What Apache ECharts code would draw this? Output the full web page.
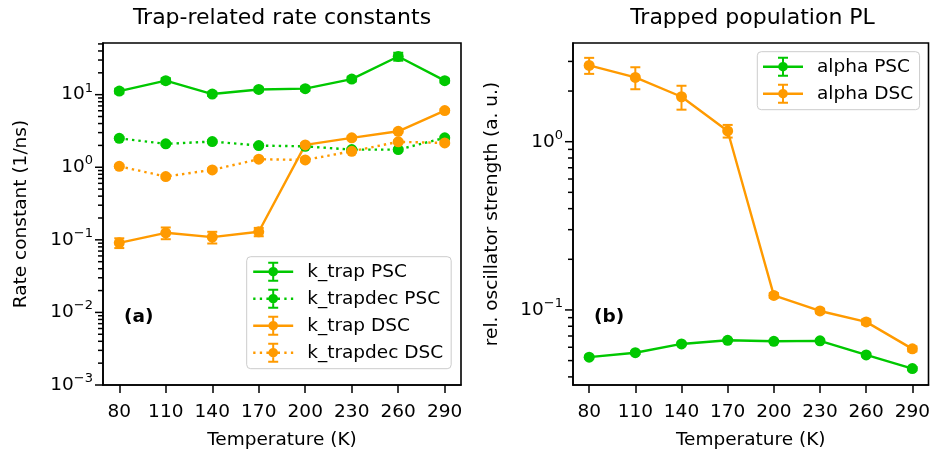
<!DOCTYPE html>
<html><head><meta charset="utf-8">
<script src="https://cdn.jsdelivr.net/npm/echarts@6/dist/echarts.min.js"></script>
<style>html,body{margin:0;padding:0;background:#fff}#c{width:933px;height:455px}</style>
</head><body><div id="c"></div>
<script>
// ---- data ----
const temps = [80, 110, 140, 170, 200, 230, 260, 290];

const kTrapPSC       = [11.2, 15.6, 10.2, 11.8, 12.1, 16.4, 33.6, 15.6];
const kTrapPSCErr    = [0.8, 1.3, 0.6, 0.7, 0.8, 1.2, 4.2, 1.0];
const kTrapdecPSC    = [2.50, 2.10, 2.26, 1.99, 1.94, 1.75, 1.75, 2.54];
const kTrapdecPSCErr = [0.10, 0.08, 0.09, 0.08, 0.08, 0.07, 0.07, 0.10];
const kTrapDSC       = [0.091, 0.125, 0.109, 0.129, 2.03, 2.54, 3.13, 6.03];
const kTrapDSCErr    = [0.014, 0.023, 0.020, 0.017, 0.10, 0.12, 0.15, 0.30];
const kTrapdecDSC    = [1.03, 0.745, 0.92, 1.29, 1.26, 1.66, 2.24, 2.16];
const kTrapdecDSCErr = [0.05, 0.04, 0.04, 0.06, 0.06, 0.07, 0.09, 0.09];

const alphaPSC    = [0.0524, 0.0557, 0.0628, 0.0660, 0.0651, 0.0655, 0.0540, 0.0448];
const alphaPSCErr = [0.001, 0.001, 0.001, 0.001, 0.001, 0.001, 0.001, 0.001];
const alphaDSC    = [2.84, 2.41, 1.85, 1.158, 0.122, 0.0986, 0.0849, 0.0587];
const alphaDSCErr = [0.31, 0.36, 0.30, 0.10, 0.004, 0.003, 0.003, 0.002];

const majorTicksL = [0.001, 0.01, 0.1, 1, 10];
const minorTicksL = [0.002, 0.003, 0.004, 0.005, 0.006, 0.007, 0.008, 0.009,
                     0.02, 0.03, 0.04, 0.05, 0.06, 0.07, 0.08, 0.09,
                     0.2, 0.3, 0.4, 0.5, 0.6, 0.7, 0.8, 0.9,
                     2, 3, 4, 5, 6, 7, 8, 9, 20, 30, 40, 50];
const majorTicksR = [0.1, 1];
const minorTicksR = [0.04, 0.05, 0.06, 0.07, 0.08, 0.09,
                     0.2, 0.3, 0.4, 0.5, 0.6, 0.7, 0.8, 0.9, 2, 3];

const leftNames  = ['k_trap PSC', 'k_trapdec PSC', 'k_trap DSC', 'k_trapdec DSC'];
const rightNames = ['alpha PSC', 'alpha DSC'];

// ---- style ----
const GREEN = '#00c800', ORANGE = '#ff9a00';
const FONT = '"DejaVu Sans", Verdana, sans-serif';
const FS = 18.5;

const solidIcon = 'path://M0,8.8L40,8.8L40,11.2L0,11.2Z M19,1L21,1L21,19L19,19Z M15,0L25,0L25,2L15,2Z M15,18L25,18L25,20L15,20Z M24.8,10A4.8,4.8 0 1 1 15.2,10A4.8,4.8 0 1 1 24.8,10Z';
const dotIcon = 'path://M0,8.8L2.3,8.8L2.3,11.2L0,11.2Z M6.6,8.8L8.9,8.8L8.9,11.2L6.6,11.2Z M13.2,8.8L15.5,8.8L15.5,11.2L13.2,11.2Z M24.5,8.8L26.8,8.8L26.8,11.2L24.5,11.2Z M31.1,8.8L33.4,8.8L33.4,11.2L31.1,11.2Z M37.7,8.8L40,8.8L40,11.2L37.7,11.2Z M19,1L21,1L21,19L19,19Z M15,0L25,0L25,2L15,2Z M15,18L25,18L25,20L15,20Z M24.8,10A4.8,4.8 0 1 1 15.2,10A4.8,4.8 0 1 1 24.8,10Z';

function pairs(ys) { return temps.map((t, i) => [t, ys[i]]); }
function triples(ys, es) { return temps.map((t, i) => [t, ys[i], es[i]]); }

function errSeries(name, ys, es, color, gi) {
  return {
    type: 'custom', name: name + ' err', xAxisIndex: gi, yAxisIndex: gi * 2, clip: false,
    data: triples(ys, es), silent: true, z: 2,
    renderItem: function (params, api) {
      const x = api.value(0), y = api.value(1), e = api.value(2);
      const lo = api.coord([x, y - e]), hi = api.coord([x, y + e]);
      const hw = 5, st = { stroke: color, lineWidth: 2 };
      return { type: 'group', children: [
        { type: 'line', shape: { x1: lo[0], y1: lo[1], x2: hi[0], y2: hi[1] }, style: st },
        { type: 'line', shape: { x1: lo[0] - hw, y1: lo[1], x2: lo[0] + hw, y2: lo[1] }, style: st },
        { type: 'line', shape: { x1: hi[0] - hw, y1: hi[1], x2: hi[0] + hw, y2: hi[1] }, style: st }
      ]};
    }
  };
}
function lineSeries(name, ys, color, dotted, gi) {
  return {
    type: 'line', name: name, xAxisIndex: gi, yAxisIndex: gi * 2, data: pairs(ys),
    symbol: 'circle', symbolSize: 11, showSymbol: true, z: 3,
    itemStyle: { color: color, borderWidth: 0 },
    lineStyle: { color: color, width: 2.4, type: dotted ? [2.4, 4.0] : 'solid', cap: 'butt' },
    emphasis: { disabled: true }
  };
}
function tickSeries(vals, len, gi) {
  return {
    type: 'custom', xAxisIndex: gi, yAxisIndex: gi * 2, clip: false, silent: true, z: 5,
    data: vals.map(v => [temps[0], v]),
    renderItem: function (params, api) {
      const p = api.coord([api.value(0), api.value(1)]);
      const x0 = params.coordSys.x;
      return { type: 'line', shape: { x1: x0 - len, y1: p[1], x2: x0, y2: p[1] },
               style: { stroke: '#000', lineWidth: 1.5 } };
    }
  };
}

function logLabel(v) {
  const l = Math.log10(v), e = Math.round(l);
  if (Math.abs(l - e) > 1e-6) return '';
  const s = e < 0 ? '\u2212' + (-e) : String(e);
  return '{b|10}{s|' + s + '}';
}

function xAxis(gi) {
  return {
    type: 'value', gridIndex: gi, min: 69.5, max: 300.5,
    name: 'Temperature (K)', nameLocation: 'middle', nameGap: 46,
    nameTextStyle: { fontSize: FS, fontFamily: FONT, color: '#000' },
    axisLine: { show: true, lineStyle: { color: '#000', width: 1.6 } },
    axisTick: { show: true, customValues: temps, length: 8, lineStyle: { color: '#000', width: 1.5 } },
    axisLabel: { customValues: temps, margin: 18, fontSize: FS, fontFamily: FONT, color: '#000' },
    splitLine: { show: false }
  };
}
function yAxis(gi, min, max, name, gap) {
  return {
    type: 'log', logBase: 10, gridIndex: gi, min: min, max: max,
    name: name, nameLocation: 'middle', nameGap: gap,
    nameTextStyle: { fontSize: FS, fontFamily: FONT, color: '#000' },
    axisLine: { show: true, lineStyle: { color: '#000', width: 1.6 } },
    axisTick: { show: false },
    minorTick: { show: false },
    axisLabel: {
      margin: 10, formatter: logLabel, color: '#000',
      rich: {
        b: { fontSize: FS, fontFamily: FONT, lineHeight: 26, color: '#000' },
        s: { fontSize: 13, fontFamily: FONT, lineHeight: 12, verticalAlign: 'top', color: '#000' }
      }
    },
    splitLine: { show: false }
  };
}
function dummyY(gi, min, max) {
  return { type: 'log', gridIndex: gi, min: min, max: max, show: false };
}

function legend(names, icons, left, top, padding) {
  return {
    orient: 'vertical', left: left, top: top, selectedMode: false,
    data: names.map((n, i) => ({ name: n, icon: icons[i] })),
    itemWidth: 40, itemHeight: 20, itemGap: 7, padding: padding,
    backgroundColor: 'rgba(255,255,255,0.8)', borderColor: '#cccccc', borderWidth: 1, borderRadius: 4,
    itemStyle: { borderWidth: 0 },
    textStyle: { fontSize: FS, fontFamily: FONT, color: '#000', padding: [0, 0, 0, 9] }
  };
}

const chart = echarts.init(document.getElementById('c'), null, { renderer: 'canvas' });
chart.setOption({
  animation: false,
  backgroundColor: '#fff',
  textStyle: { fontFamily: FONT },
  grid: [
    { left: 103, top: 43, width: 358, height: 342, show: true, borderColor: '#000', borderWidth: 1.6, backgroundColor: 'transparent' },
    { left: 573, top: 43, width: 359, height: 342, show: true, borderColor: '#000', borderWidth: 1.6, backgroundColor: 'transparent' }
  ],
  xAxis: [xAxis(0), xAxis(1)],
  yAxis: [
    yAxis(0, 0.001, 51.5, 'Rate constant (1/ns)', 72), dummyY(0, 0.001, 51.5),
    yAxis(1, 0.0358, 3.86, 'rel. oscillator strength (a. u.)', 71), dummyY(1, 0.0358, 3.86)
  ],
  legend: [
    legend(leftNames, [solidIcon, dotIcon, solidIcon, dotIcon], 246.7, 256.7, [5, 8, 6, 6.5]),
    legend(rightNames, [solidIcon, solidIcon], 757.3, 51.7, [5, 6.5, 6, 5.7])
  ],
  graphic: [
    { type: 'text', x: 282, y: 18, style: { text: 'Trap-related rate constants', fontSize: 22, fontFamily: FONT, fill: '#000', align: 'center', verticalAlign: 'middle' } },
    { type: 'text', x: 752.5, y: 18, style: { text: 'Trapped population PL', fontSize: 22, fontFamily: FONT, fill: '#000', align: 'center', verticalAlign: 'middle' } },
    { type: 'text', x: 124, y: 317, style: { text: '(a)', fontSize: FS, fontWeight: 'bold', fontFamily: FONT, fill: '#000', align: 'left', verticalAlign: 'middle' } },
    { type: 'text', x: 594, y: 317, style: { text: '(b)', fontSize: FS, fontWeight: 'bold', fontFamily: FONT, fill: '#000', align: 'left', verticalAlign: 'middle' } }
  ],
  series: [
    errSeries(leftNames[0], kTrapPSC, kTrapPSCErr, GREEN, 0),
    lineSeries(leftNames[0], kTrapPSC, GREEN, false, 0),
    errSeries(leftNames[1], kTrapdecPSC, kTrapdecPSCErr, GREEN, 0),
    lineSeries(leftNames[1], kTrapdecPSC, GREEN, true, 0),
    errSeries(leftNames[2], kTrapDSC, kTrapDSCErr, ORANGE, 0),
    lineSeries(leftNames[2], kTrapDSC, ORANGE, false, 0),
    errSeries(leftNames[3], kTrapdecDSC, kTrapdecDSCErr, ORANGE, 0),
    lineSeries(leftNames[3], kTrapdecDSC, ORANGE, true, 0),
    errSeries(rightNames[0], alphaPSC, alphaPSCErr, GREEN, 1),
    lineSeries(rightNames[0], alphaPSC, GREEN, false, 1),
    errSeries(rightNames[1], alphaDSC, alphaDSCErr, ORANGE, 1),
    lineSeries(rightNames[1], alphaDSC, ORANGE, false, 1),
    tickSeries(majorTicksL, 8, 0),
    tickSeries(minorTicksL, 5, 0),
    tickSeries(majorTicksR, 8, 1),
    tickSeries(minorTicksR, 5, 1)
  ]
});
</script>
</body></html>
